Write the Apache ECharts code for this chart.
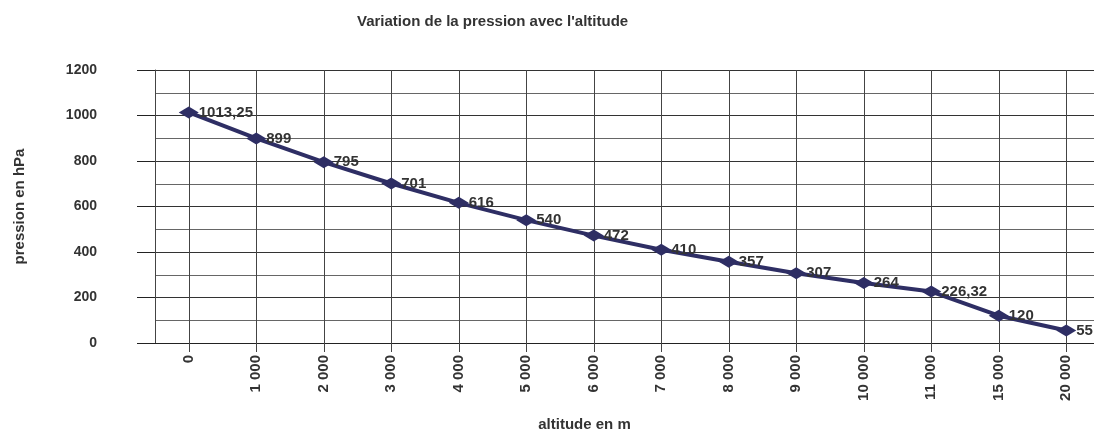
<!DOCTYPE html>
<html>
<head>
<meta charset="utf-8">
<script src="https://cdn.jsdelivr.net/npm/echarts@6/dist/echarts.min.js"></script>
<style>html,body{margin:0;padding:0;background:#fff}#c{width:1094px;height:431px}</style>
</head>
<body>
<div id="c"></div>
<script>
const titleText = "Variation de la pression avec l'altitude";
const xName = "altitude en m";
const yName = "pression en hPa";
const categories = ["0","1 000","2 000","3 000","4 000","5 000","6 000","7 000","8 000","9 000","10 000","11 000","15 000","20 000"];
const pressure = [1013.25, 899, 795, 701, 616, 540, 472, 410, 357, 307, 264, 226.32, 120, 55];

const chart = echarts.init(document.getElementById('c'), null, {renderer: 'canvas'});
const font = '"Liberation Sans", Arial, sans-serif';
chart.setOption({
  animation: false,
  textStyle: {fontFamily: font},
  title: {
    text: titleText, left: 352, top: 9,
    textStyle: {fontFamily: font, fontSize: 15, fontWeight: 'bold', color: '#333'}
  },
  grid: {left: 155, right: -6, top: 70, bottom: 88, containLabel: false, outerBoundsMode: 'none'},
  xAxis: {
    type: 'category', data: categories, boundaryGap: true,
    name: xName, nameLocation: 'middle', nameGap: 74,
    nameTextStyle: {fontFamily: font, fontSize: 15, fontWeight: 'bold', color: '#333', padding: [0, 86, 0, 0]},
    axisLine: {show: true, lineStyle: {color: '#222', width: 1}},
    axisTick: {show: true, alignWithLabel: true, length: 9, lineStyle: {color: '#444'}},
    axisLabel: {rotate: 90, margin: 12, fontFamily: font, fontSize: 15, fontWeight: 'bold', color: '#333', interval: 0},
    splitLine: {show: true, alignWithLabel: true, interval: 0, lineStyle: {color: '#444', width: 1}}
  },
  yAxis: {
    type: 'value', min: 0, max: 1200, interval: 200,
    name: yName, nameLocation: 'middle', nameGap: 128,
    nameTextStyle: {fontFamily: font, fontSize: 15, fontWeight: 'bold', color: '#333'},
    axisLine: {show: true, lineStyle: {color: '#444', width: 1}},
    axisTick: {show: true, length: 18, lineStyle: {color: '#222'}},
    axisLabel: {margin: 58, fontFamily: font, fontSize: 14, fontWeight: 'bold', color: '#333', formatter: v => String(v)},
    splitLine: {show: true, lineStyle: {color: '#333', width: 1}},
    minorTick: {show: false, splitNumber: 2},
    minorSplitLine: {show: true, lineStyle: {color: '#666', width: 1}}
  },
  series: [{
    type: 'line', data: pressure,
    symbol: 'diamond', symbolSize: [20, 12],
    lineStyle: {color: '#2e2e64', width: 4},
    itemStyle: {color: '#2e2e64'},
    label: {
      show: true, position: 'right', distance: 0,
      fontFamily: font, fontSize: 15, fontWeight: 'bold', color: '#333',
      formatter: p => String(p.value).replace('.', ',')
    }
  }]
});
</script>
</body>
</html>
